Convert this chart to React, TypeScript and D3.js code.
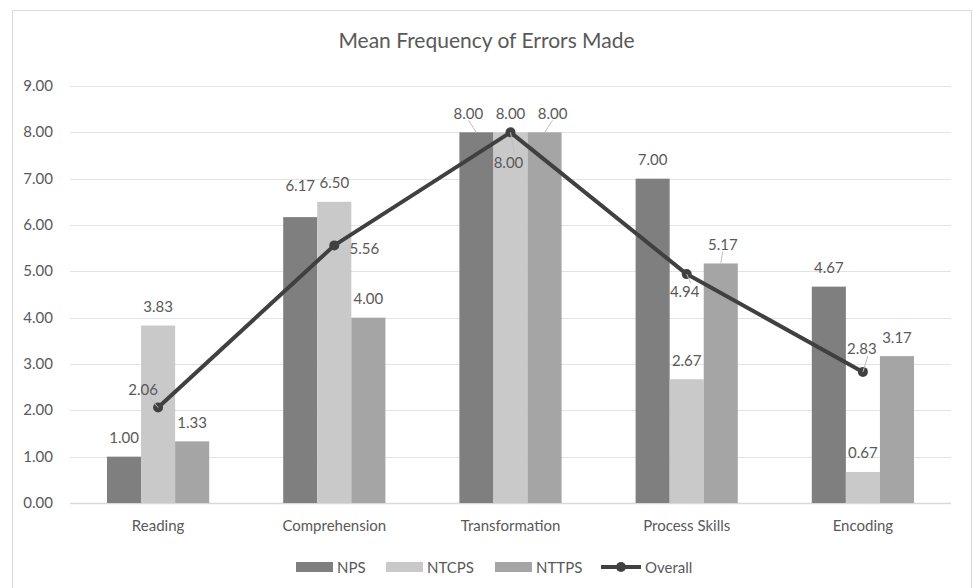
import React from 'react';
import * as d3 from 'd3';

// chart data
const categories = ['Reading', 'Comprehension', 'Transformation', 'Process Skills', 'Encoding'];
const seriesNames = ['NPS', 'NTCPS', 'NTTPS'];
const nps = [1.0, 6.17, 8.0, 7.0, 4.67];
const ntcps = [3.83, 6.5, 8.0, 2.67, 0.67];
const nttps = [1.33, 4.0, 8.0, 5.17, 3.17];
const overall = [2.06, 5.56, 8.0, 4.94, 2.83];
const yTicks = [0, 1, 2, 3, 4, 5, 6, 7, 8, 9];

// label displacement (px) relative to default spot, and whether a leader line is drawn
const barLabelShift = [
  [[0, 0, 0], [0, 0, 0], [0, 0, 0]],
  [[0, -13, 0], [0, 0, 0], [0, 0, 0]],
  [[-8, 0, 1], [0, 0, 0], [8, 0, 1]],
  [[0, 0, 0], [0, 0, 0], [2, 0, 1]],
  [[0, 0, 0], [0, 0, 0], [0, 0, 0]],
];
const lineLabelShift = [[-15, -18, 1], [30, 3, 0], [-2, 30, 1], [-2, 17, 1], [-1, -23, 1]];

const colors = ['#7f7f7f', '#c9c9c9', '#a5a5a5'];
const lineColor = '#404040';
const textColor = '#595959';
const font = 'Lato, "Open Sans", sans-serif';

export default function App() {
  const W = 973, H = 588;
  const left = 70, right = 951, top = 86, bottom = 503;
  const seriesData = [nps, ntcps, nttps];

  const x = d3.scaleBand().domain(categories).range([left, right]).paddingInner(0).paddingOuter(0);
  const y = d3.scaleLinear().domain([0, 9]).range([bottom, top]);
  const groupW = x.bandwidth() * 0.58;
  const inner = d3.scaleBand().domain(seriesNames).range([0, groupW]);
  const cx = (c: string) => (x(c) as number) + x.bandwidth() / 2;

  const line = d3.line<number>()
    .x((_, i) => cx(categories[i]))
    .y(d => y(d));

  return (
    <svg width={W} height={H} style={{ position: 'absolute', left: 0, top: 0, background: '#fff' }}
      fontFamily={font}>
      <rect x={12.5} y={10.5} width={959} height={590} fill="#fff" stroke="#d9d9d9" />
      <text x={W / 2} y={48} textAnchor="middle" fontSize={21} fill={textColor}>Mean Frequency of Errors Made</text>

      {yTicks.map(t => (
        <g key={t}>
          <line x1={left} x2={right} y1={Math.round(y(t)) + 0.5} y2={Math.round(y(t)) + 0.5}
            stroke={t === 0 ? '#d9d9d9' : '#e3e3e3'} strokeWidth={t === 0 ? 1.5 : 1} />
          <text x={53} y={y(t) + 5} textAnchor="end" fontSize={15} fill={textColor}>{t.toFixed(2)}</text>
        </g>
      ))}

      {categories.map((c, ci) => (
        <g key={c}>
          {seriesData.map((s, si) => {
            const bx = cx(c) - groupW / 2 + (inner(seriesNames[si]) as number);
            const bw = inner.bandwidth();
            return <rect key={si} x={bx} y={y(s[ci])} width={bw} height={bottom - y(s[ci])} fill={colors[si]} />;
          })}
          <text x={cx(c)} y={531} textAnchor="middle" fontSize={15} fill={textColor}>{c}</text>
        </g>
      ))}

      {categories.map((c, ci) => seriesData.map((s, si) => {
        const bw = inner.bandwidth();
        const bcx = cx(c) - groupW / 2 + (inner(seriesNames[si]) as number) + bw / 2;
        const [dx, dy, lead] = barLabelShift[ci][si];
        const ly = y(s[ci]) - 19 + dy;
        return (
          <g key={c + si}>
            {lead ? <line x1={bcx + dx} y1={ly + 7} x2={bcx} y2={y(s[ci])} stroke="#bfbfbf" /> : null}
            <text x={bcx + dx} y={ly + 5.5} textAnchor="middle" fontSize={15} fill={textColor}>{s[ci].toFixed(2)}</text>
          </g>
        );
      }))}

      <path d={line(overall) || ''} fill="none" stroke={lineColor} strokeWidth={4} strokeLinejoin="round" />
      {overall.map((v, i) => (
        <circle key={i} cx={cx(categories[i])} cy={y(v)} r={5} fill={lineColor} />
      ))}
      {overall.map((v, i) => {
        const [dx, dy, lead] = lineLabelShift[i];
        const px = cx(categories[i]), py = y(v);
        const lx = px + dx, ly = py + dy;
        return (
          <g key={'o' + i}>
            {lead ? <line x1={lx + (dx < 0 ? 6 : 0)} y1={ly + (dy < 0 ? 7 : -8)} x2={px} y2={py} stroke="#bfbfbf" /> : null}
            <text x={lx} y={ly + 5.5} textAnchor="middle" fontSize={15} fill={textColor}>{v.toFixed(2)}</text>
          </g>
        );
      })}

      <g transform="translate(0,567)" fontSize={15} fill={textColor}>
        {[296, 386, 495].map((lx, i) => (
          <g key={i}>
            <rect x={lx} y={-5} width={37} height={10} fill={colors[i]} />
            <text x={lx + 41} y={5.5}>{seriesNames[i]}</text>
          </g>
        ))}
        <line x1={601} x2={641} y1={0} y2={0} stroke={lineColor} strokeWidth={4} />
        <circle cx={621} cy={0} r={5} fill={lineColor} />
        <text x={645} y={5.5}>Overall</text>
      </g>
    </svg>
  );
}
